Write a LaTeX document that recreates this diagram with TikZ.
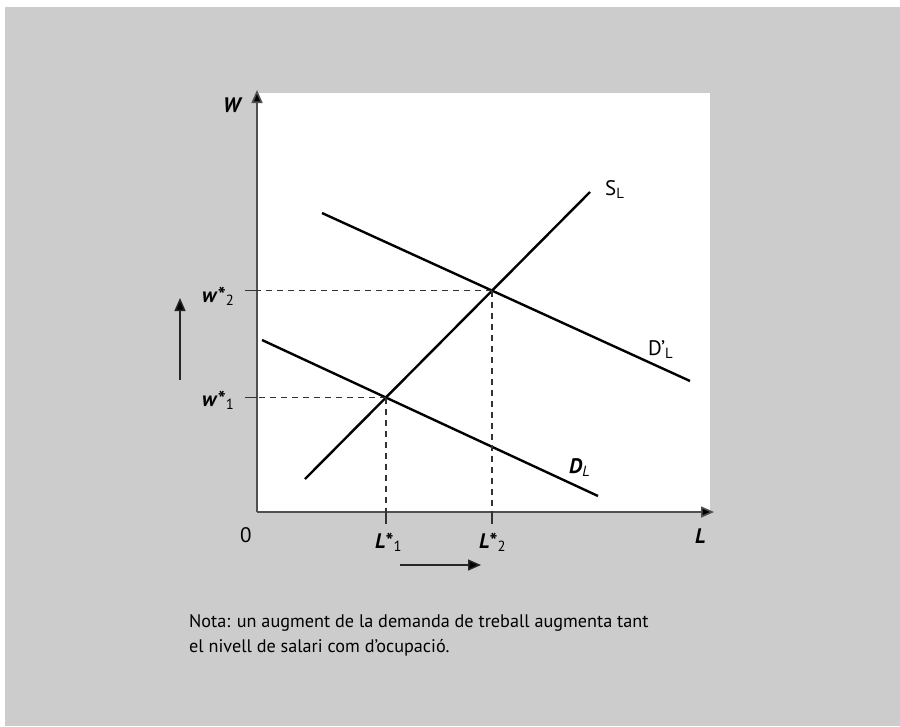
\documentclass[tikz,border=0pt]{standalone}
\usepackage{fontspec}
\setmainfont{PT Sans}
\usetikzlibrary{arrows.meta}
\definecolor{bggray}{HTML}{CCCCCC}
\definecolor{axisgray}{HTML}{505050}

\begin{document}
\begin{tikzpicture}[x=1pt,y=-1pt,>=Stealth,
  lbl/.style={anchor=base west,inner sep=0pt,font=\fontsize{21}{25}\selectfont},
  demcurve/.style={black,line width=2.4pt},
  guide/.style={black!80,line width=1.2pt,dash pattern=on 6pt off 5pt},
  axtick/.style={black!80,line width=1.2pt},
  axline/.style={axisgray,line width=1.6pt,-{Triangle[length=13pt,width=11pt,fill=black]}},
  shiftarrow/.style={black!85,line width=1.5pt,-{Triangle[length=13pt,width=11pt,fill=black]}}]
 \useasboundingbox (0,0) rectangle (900,726);
 \fill[bggray] (5,7) rectangle (900,726);
 \fill[white] (257,93) rectangle (710,512);
 % axes
 \coordinate (O) at (257,512);
 \coordinate (Wtop) at (257,90);
 \coordinate (Lend) at (714,512);
 \draw[axline] (O)--(Wtop);
 \draw[axline] (O)--(Lend);
 \node[lbl] (Wlab) at (223,112) {\textbf{\textit{W}}};
 \node[lbl] (Llab) at (695,543) {\textbf{\textit{L}}};
 \node[lbl] (zero) at (240,542) {0};
 % supply and demand
 \coordinate (s1) at (305,479); \coordinate (s2) at (590,192);
 \coordinate (d1) at (262,340); \coordinate (d2) at (598,496);
 \coordinate (e1) at (322,213); \coordinate (e2) at (690,381);
 \draw[demcurve] (s1)--(s2);
 \draw[demcurve] (d1)--(d2);
 \draw[demcurve] (e1)--(e2);
 \node[lbl] (SL) at (605,195) {S\textsubscript{L}};
 \node[lbl] (DpL) at (648,355) {D'\textsubscript{L}};
 \node[lbl] (DL) at (569,473) {\textbf{\textit{D}}\textsubscript{\textit{L}}};
 % equilibria
 \coordinate (E1) at (intersection of s1--s2 and d1--d2);
 \coordinate (E2) at (intersection of s1--s2 and e1--e2);
 \draw[guide] (E1)--(O|-E1);
 \draw[guide] (E1)--(E1|-O);
 \draw[guide] (E2)--(O|-E2);
 \draw[guide] (E2)--(E2|-O);
 \draw[axtick] (O|-E1)--++(-12,0);
 \draw[axtick] (O|-E2)--++(-12,0);
 \draw[axtick] (E1|-O)--++(0,12);
 \draw[axtick] (E2|-O)--++(0,12);
 \node[lbl] (w1) at (202,406) {\textbf{\textit{w}*}\textsubscript{1}};
 \node[lbl] (w2) at (202,302) {\textbf{\textit{w}*}\textsubscript{2}};
 \node[lbl] (L1) at (375,548) {\textbf{\textit{L}*}\textsubscript{1}};
 \node[lbl] (L2) at (479,548) {\textbf{\textit{L}*}\textsubscript{2}};
 % shifts
 \coordinate (up1) at (180,380); \coordinate (up2) at (180,298);
 \coordinate (rt1) at (400,565); \coordinate (rt2) at (481,565);
 \draw[shiftarrow] (up1)--(up2);
 \draw[shiftarrow] (rt1)--(rt2);
 % note
 \node[anchor=north west,inner sep=0pt,align=left,
   font=\fontsize{18.2}{25}\selectfont] (nota) at (189,614)
   {Nota: un augment de la demanda de treball augmenta tant\\
    el nivell de salari com d’ocupació.};
\end{tikzpicture}
\end{document}
